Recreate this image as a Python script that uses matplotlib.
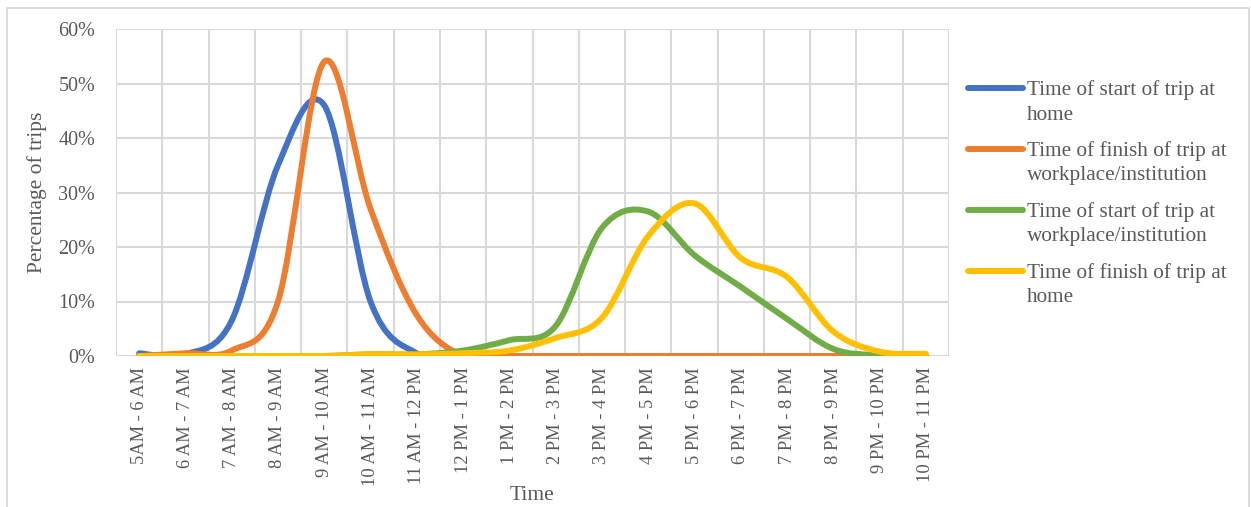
import numpy as np
import matplotlib.pyplot as plt
from matplotlib.path import Path
from matplotlib.patches import PathPatch, Rectangle
from matplotlib.lines import Line2D
from matplotlib.ticker import FuncFormatter

plt.rcParams['font.family'] = ['Liberation Serif', 'DejaVu Serif']

time_slots = ['5AM - 6 AM', '6 AM - 7 AM', '7 AM - 8 AM', '8 AM - 9 AM',
              '9 AM - 10 AM', '10 AM - 11 AM', '11 AM - 12 PM', '12 PM - 1 PM',
              '1 PM - 2 PM', '2 PM - 3 PM', '3 PM - 4 PM', '4 PM - 5 PM',
              '5 PM - 6 PM', '6 PM - 7 PM', '7 PM - 8 PM', '8 PM - 9 PM',
              '9 PM - 10 PM', '10 PM - 11 PM']

# percentage of trips in each hour slot
start_home = [0.5, 0.3, 6.5, 35, 46, 10, 0.5, 0, 0, 0, 0, 0, 0, 0, 0, 0, 0, 0]
finish_work = [0, 0.5, 1, 10, 54, 27, 7.5, 0, 0, 0, 0, 0, 0, 0, 0, 0, 0, 0]
start_work = [0, 0, 0, 0, 0, 0.3, 0.3, 1, 2.9, 5.5, 23.5, 26.5, 18.5, 12.7, 6.8, 1.3, 0.1, 0]
finish_home = [0, 0, 0, 0, 0, 0.3, 0.3, 0.5, 1, 3.3, 7, 22, 28, 18, 14.5, 4.5, 0.8, 0.4]

series = [
    (['Time of start of trip at', 'home'], start_home, '#4472c4'),
    (['Time of finish of trip at', 'workplace/institution'], finish_work, '#ed7d31'),
    (['Time of start of trip at', 'workplace/institution'], start_work, '#70ad47'),
    (['Time of finish of trip at', 'home'], finish_home, '#ffc000'),
]

grey = '#595959'
W, H = 1251, 507


def smooth_path(x, y):
    # Catmull-Rom style bezier through every point
    pts = np.column_stack([x, y]).astype(float)
    n = len(pts)
    verts = [pts[0]]
    codes = [Path.MOVETO]
    for i in range(n - 1):
        p0 = pts[max(i - 1, 0)]
        p1 = pts[i]
        p2 = pts[i + 1]
        p3 = pts[min(i + 2, n - 1)]
        c1 = p1 + (p2 - p0) / 6.0
        c2 = p2 - (p3 - p1) / 6.0
        verts += [c1, c2, p2]
        codes += [Path.CURVE4] * 3
    return Path(verts, codes)


fig = plt.figure(figsize=(W / 100, H / 100), dpi=100)
ax = fig.add_axes([116 / W, (H - 356) / H, 833 / W, 327 / H])

x = np.arange(len(time_slots))
for label, vals, col in series:
    patch = PathPatch(smooth_path(x, vals), fill=False, edgecolor=col,
                      linewidth=4.3, capstyle='round', joinstyle='round', zorder=3)
    ax.add_patch(patch)

ax.set_xlim(-0.5, len(time_slots) - 0.5)
ax.set_ylim(0, 60)
ax.set_yticks(np.arange(0, 61, 10))
ax.yaxis.set_major_formatter(FuncFormatter(lambda v, p: '%d%%' % v))
ax.set_xticks(x)
ax.set_xticklabels(time_slots, rotation=90, va='top', ha='center')
ax.set_xticks(np.arange(-0.5, len(time_slots), 1), minor=True)

ax.grid(which='major', axis='y', color='#d9d9d9', linewidth=1.5)
ax.grid(which='minor', axis='x', color='#d9d9d9', linewidth=1.5)
ax.set_axisbelow(True)
for s in ax.spines.values():
    s.set_visible(False)

ax.tick_params(axis='both', which='both', length=0, labelcolor=grey)
ax.tick_params(axis='x', labelsize=13.3, pad=8)
ax.tick_params(axis='y', labelsize=14.5, pad=15)

ax.set_ylabel('Percentage of trips', fontsize=15.5, color=grey, labelpad=8)
ax.set_xlabel('Time', fontsize=15.5, color=grey, labelpad=0)

# legend drawn by hand: key line level with the first text line
baselines = [95, 156, 217, 278]
for (lines, vals, col), b in zip(series, baselines):
    ky = 1 - (b - 7.3) / H
    fig.add_artist(Line2D([968 / W, 1023 / W], [ky, ky], color=col, linewidth=4.3,
                          solid_capstyle='round', transform=fig.transFigure))
    for k, txt in enumerate(lines):
        fig.text(1027 / W, 1 - (b + 24.5 * k) / H, txt, fontsize=15.3,
                 color=grey, va='baseline', ha='left')

# thin border round the whole chart
fig.add_artist(Rectangle((7 / W, -0.05), (1249 - 7) / W, 1.05 - 8 / H,
                         transform=fig.transFigure, fill=False,
                         edgecolor='#d9d9d9', linewidth=1.3))

fig.savefig('out.png', dpi=100)
